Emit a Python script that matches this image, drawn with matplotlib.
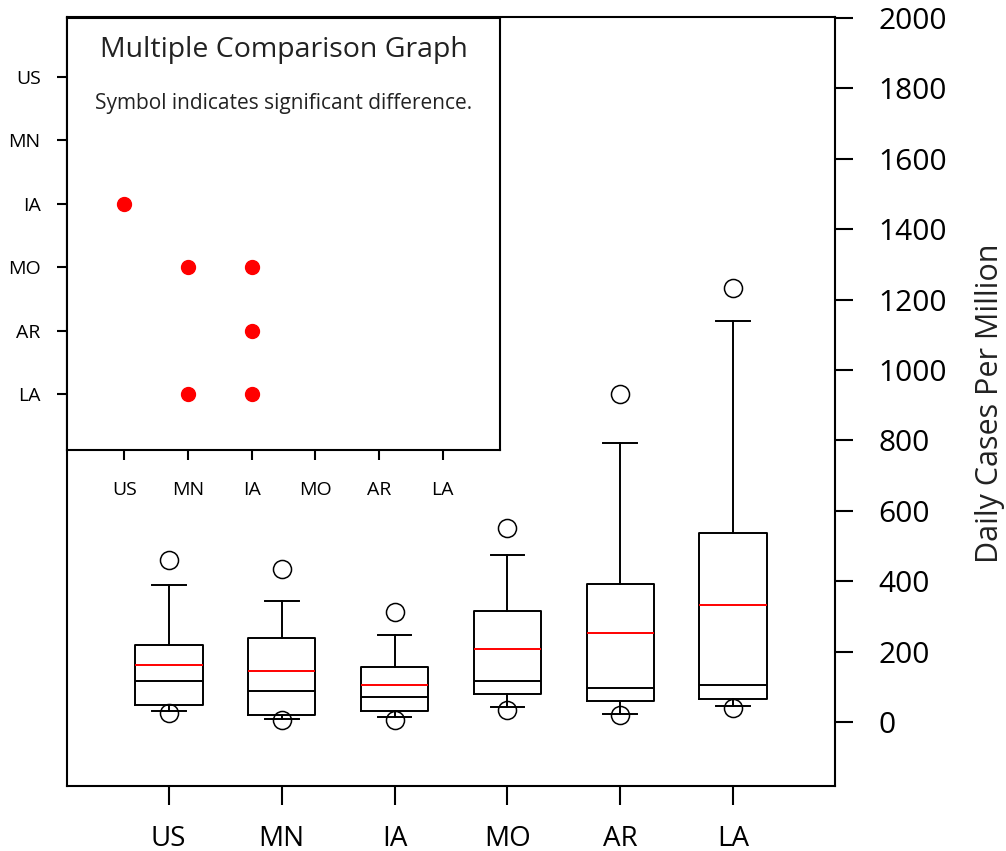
import matplotlib.pyplot as plt

plt.rcParams['font.family'] = ['Open Sans', 'DejaVu Sans']

groups = ['US', 'MN', 'IA', 'MO', 'AR', 'LA']
whisker_lo = [31, 9, 14, 43, 22, 44]
q1 = [48, 20, 31, 80, 60, 65]
medians = [117, 88, 72, 117, 95, 106]
means = [162, 145, 106, 207, 254, 332]
q3 = [219, 238, 157, 316, 392, 538]
whisker_hi = [389, 345, 247, 475, 794, 1140]
outliers_hi = [460, 435, 312, 551, 932, 1234]
outliers_lo = [25, 5, 5, 34, 20, 40]

# significant pairs for the comparison inset (column group, row group)
sig_cols = ['US', 'MN', 'IA', 'IA', 'MN', 'IA']
sig_rows = ['IA', 'MO', 'MO', 'AR', 'LA', 'LA']

fig = plt.figure(figsize=(10.06, 8.51), dpi=100)
ax = fig.add_axes([0.0666, 0.0764, 0.7634, 0.9036])

stats = []
for i, g in enumerate(groups):
    stats.append({'label': g, 'whislo': whisker_lo[i], 'q1': q1[i], 'med': medians[i],
                  'mean': means[i], 'q3': q3[i], 'whishi': whisker_hi[i],
                  'fliers': [outliers_lo[i], outliers_hi[i]]})

pos = list(range(1, len(groups) + 1))
ax.bxp(stats, positions=pos, widths=0.6, capwidths=0.3, showmeans=True, meanline=True,
       boxprops=dict(color='black', linewidth=1.4),
       whiskerprops=dict(color='black', linewidth=1.4),
       capprops=dict(color='black', linewidth=1.4),
       medianprops=dict(color='black', linewidth=1.4),
       meanprops=dict(color='red', linestyle='-', linewidth=1.4),
       flierprops=dict(marker='o', markerfacecolor='none', markeredgecolor='black',
                       markersize=13, markeredgewidth=1.1))

ax.set_xlim(0.1, 6.9)
ax.set_ylim(-182, 2003)
ax.set_xticks(pos)
ax.set_xticklabels(groups, fontsize=20)
ax.yaxis.tick_right()
ax.set_yticks(range(0, 2001, 200))
ax.tick_params(axis='y', labelsize=21.5, length=13, width=1.5, direction='out', pad=18)
ax.tick_params(axis='x', length=14, width=1.5, direction='out', pad=14)
for s in ax.spines.values():
    s.set_linewidth(1.5)
fig.text(990 / 1006, 1 - 403 / 851, 'Daily Cases Per Million', rotation=90,
         ha='center', va='center', fontsize=22, color='#222222')

# inset: multiple comparison graph
ins = fig.add_axes([0.0666, 0.4712, 0.4304, 0.5076])
ins.set_facecolor('white')
cx = [groups.index(c) + 1 for c in sig_cols]
cy = [groups.index(r) + 1 for r in sig_rows]
ins.plot(cx, cy, 'o', color='red', markersize=10, linestyle='none')
ins.set_xlim(0.1, 6.9)
ins.set_ylim(6.88, 0.07)
ins.set_xticks(pos)
ins.set_xticklabels(groups, fontsize=14)
ins.set_yticks(pos)
ins.set_yticklabels(groups, fontsize=14)
ins.tick_params(axis='y', length=7, width=1.5, direction='out', pad=12)
ins.tick_params(axis='x', length=7, width=1.5, direction='out', pad=15)
for s in ins.spines.values():
    s.set_linewidth(1.5)
ins.text(0.5, 0.927, 'Multiple Comparison Graph', transform=ins.transAxes,
         ha='center', va='center', fontsize=20.5, color='#222222')
ins.text(0.5, 0.803, 'Symbol indicates significant difference.', transform=ins.transAxes,
         ha='center', va='center', fontsize=15, color='#222222')

fig.savefig('out.png', dpi=100)
